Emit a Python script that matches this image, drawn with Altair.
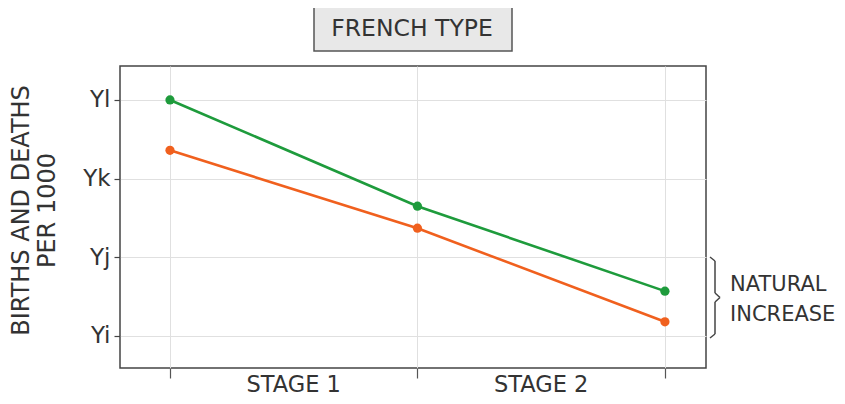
import altair as alt
import pandas as pd

# ---- data ----
stages = [0, 1, 2]
births = [4.0, 2.65, 1.57]      # green line
deaths = [3.36, 2.37, 1.18]     # orange line
series_names = ["Births", "Deaths"]
series_colors = ["#1e9b3c", "#f0601e"]
y_ticks = [1, 2, 3, 4]
y_labels = ["Yi", "Yj", "Yk", "Yl"]
stage_pos = [0.5, 1.5]
stage_labels = ["STAGE 1", "STAGE 2"]
title_text = "FRENCH TYPE"
note_lines = ["NATURAL", "INCREASE"]
y_title = ["BIRTHS AND DEATHS", "PER 1000"]

W, H = 586, 302
FONT = "DejaVu Sans"
TXT = "#333333"

df = pd.DataFrame({
    "stage": stages * 2,
    "rate": births + deaths,
    "series": [series_names[0]] * len(births) + [series_names[1]] * len(deaths),
})

label_map = "{" + ",".join(f"'{v}':'{l}'" for v, l in zip(y_ticks, y_labels)) + "}"

x_scale = alt.Scale(domain=[-0.202, 2.166], nice=False, zero=False)
y_scale = alt.Scale(domain=[0.593, 4.432], nice=False, zero=False)

x_enc = alt.X("stage:Q", scale=x_scale,
              axis=alt.Axis(values=stages, labels=False, title=None, tickSize=10,
                            tickColor="#555555", tickWidth=1.2, grid=True,
                            gridColor="#e0e0e0", domain=False))
y_enc = alt.Y("rate:Q", scale=y_scale,
              axis=alt.Axis(values=y_ticks, labelExpr=f"{label_map}[datum.value]",
                            title=y_title, titleFontSize=24, titleFont=FONT,
                            titleFontWeight="normal", titleColor=TXT,
                            titleLineHeight=26, titleX=-111, titleY=144,
                            titleAngle=270, titleAlign="center", titleBaseline="top",
                            labelFontSize=23, labelFont=FONT, labelColor=TXT,
                            labelPadding=4, tickSize=6, tickColor="#444444",
                            tickWidth=1.2, grid=True, gridColor="#e0e0e0",
                            domain=False))
color_enc = alt.Color("series:N",
                      scale=alt.Scale(domain=series_names, range=series_colors),
                      legend=None)

lines = alt.Chart(df).mark_line(strokeWidth=2.6).encode(
    x=x_enc, y=y_enc, color=color_enc, detail="series:N")
points = alt.Chart(df).mark_circle(size=85, opacity=1).encode(
    x="stage:Q", y="rate:Q", color=color_enc)

stage_df = pd.DataFrame({"pos": stage_pos, "label": stage_labels})
stage_text = alt.Chart(stage_df).mark_text(
    font=FONT, fontSize=22.5, color=TXT, baseline="bottom", align="center"
).encode(x="pos:Q", y=alt.value(H + 29), text="label:N")

title_df = pd.DataFrame({"t": [title_text]})
title_box = alt.Chart(title_df).mark_rect(
    fill="#e8e8e8", stroke="#555555", strokeWidth=1.5
).encode(x=alt.value(194), x2=alt.value(392), y=alt.value(-59), y2=alt.value(-15))
title_lbl = alt.Chart(title_df).mark_text(
    font=FONT, fontSize=23.5, color=TXT, baseline="middle", align="center"
).encode(x=alt.value(292), y=alt.value(-37), text="t:N")

note_df = pd.DataFrame({"t": [note_lines]})
note_lbl = alt.Chart(note_df).mark_text(
    font=FONT, fontSize=21, color=TXT, baseline="middle", align="left", lineHeight=30
).encode(x=alt.value(610), y=alt.value(219), text="t")

# curly brace drawn as short rule segments
brace_pts = [(590, 191), (595, 195), (595, 227), (600, 231.5),
             (595, 236), (595, 268), (590, 272)]
brace_layers = []
for (x1, y1), (x2, y2) in zip(brace_pts[:-1], brace_pts[1:]):
    brace_layers.append(
        alt.Chart(title_df).mark_rule(color="#444444", strokeWidth=1.5).encode(
            x=alt.value(x1), x2=alt.value(x2), y=alt.value(y1), y2=alt.value(y2)))

chart = alt.layer(lines, points, stage_text, title_box, title_lbl, note_lbl,
                  *brace_layers).properties(
    width=W, height=H,
    autosize=alt.AutoSizeParams(type="none"),
    padding={"left": 112, "top": 58, "right": 131, "bottom": 28},
).configure_view(stroke="#444444", strokeWidth=1.5)

chart.save("out.html", embed_options={"renderer": "svg", "actions": False})
